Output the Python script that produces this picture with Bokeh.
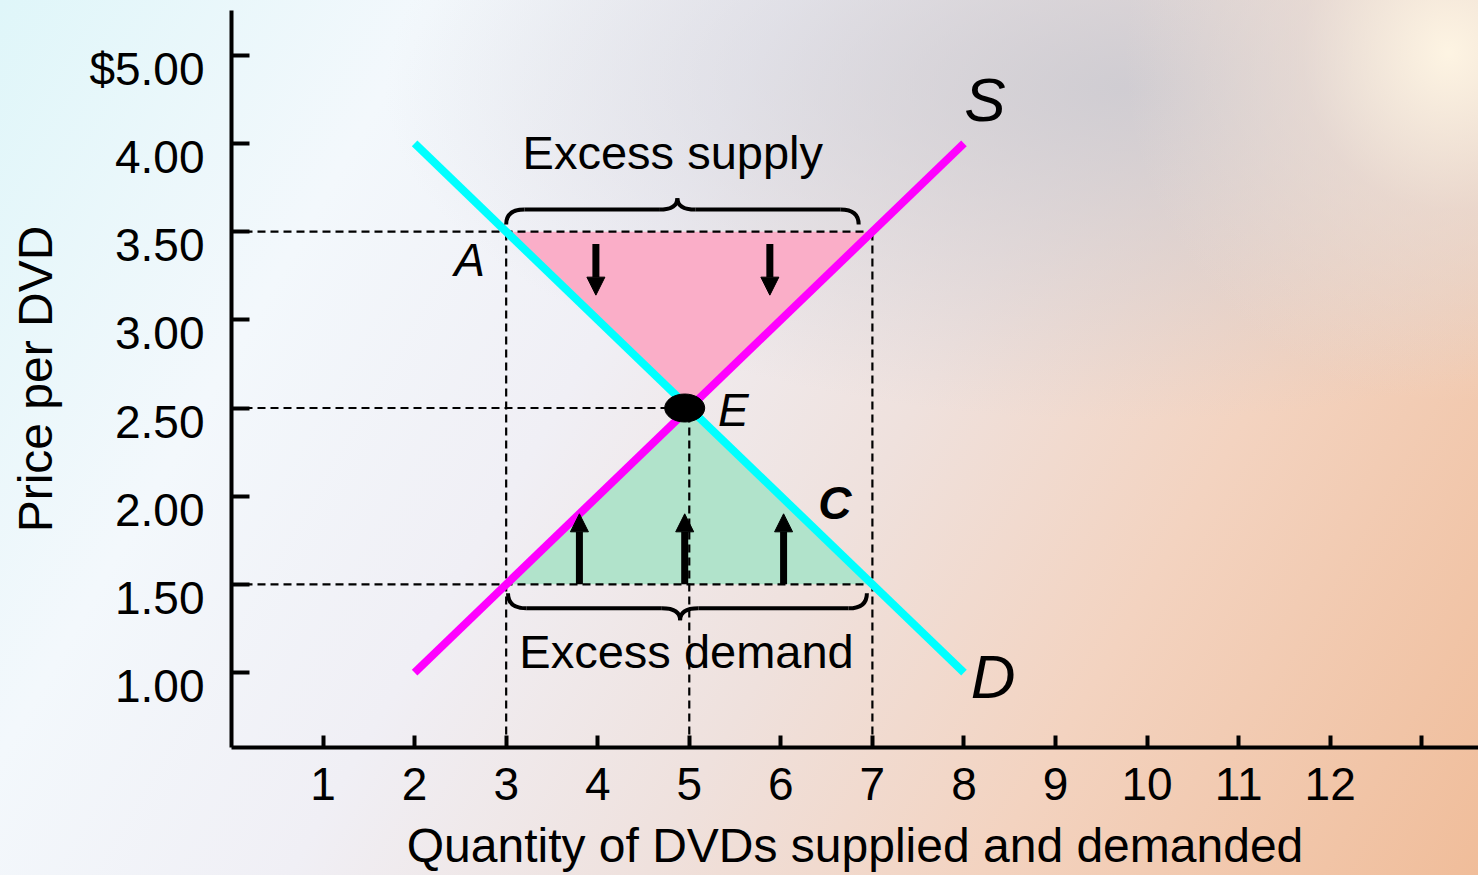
from bokeh.plotting import figure
from bokeh.models import (Range1d, FixedTicker, Arrow, NormalHead, ColumnDataSource,
                          GlobalInlineStyleSheet, LinearAxis, CustomLabelingPolicy)
from bokeh.core.properties import value
from bokeh.embed import file_html
from bokeh.resources import INLINE

# ---------------- data ----------------
supply_q = [2, 8]
supply_p = [1.0, 4.0]
demand_q = [2, 8]
demand_p = [4.0, 1.0]

eq_q = 5
eq_p = 2.5
high_p = 3.5          # price above equilibrium
qd_at_high = 3
qs_at_high = 7
low_p = 1.5           # price below equilibrium
qs_at_low = 3
qd_at_low = 7

y_ticks = [1.0, 1.5, 2.0, 2.5, 3.0, 3.5, 4.0, 4.5]
y_tick_labels = ["1.00", "1.50", "2.00", "2.50", "3.00", "3.50", "4.00", "$5.00"]
x_ticks = list(range(1, 14))
x_tick_labels = [str(i) for i in range(1, 13)] + [""]

down_arrow_q = [3.98, 5.88]
down_arrow_from = 3.43
down_arrow_to = 3.14
up_arrow_q = [3.8, 4.95, 6.03]
up_arrow_from = 1.5
up_arrow_to = 1.9

curve_labels = ["S", "D"]
curve_label_q = [8.23, 8.32]
curve_label_p = [4.25, 0.98]
point_labels = ["A", "E"]
point_label_q = [2.6, 5.48]
point_label_p = [3.34, 2.49]
c_label = "C"
c_label_q = 6.59
c_label_p = 1.96
region_labels = ["Excess supply", "Excess demand"]
region_label_q = [4.82, 4.97]
region_label_p = [3.95, 1.12]

FONT = "Liberation Sans"

# ---------------- figure ----------------
X0, X1 = 0.0, 13.62
Y0, Y1 = 0.575, 4.754
LABEL_DROP = 0.0766   # tick labels sit a little below their ticks in the original

p = figure(width=1478, height=875, output_backend="svg", toolbar_location=None,
           x_range=Range1d(X0, X1), y_range=Range1d(Y0, Y1),
           min_border_left=231, min_border_right=0, min_border_top=10, min_border_bottom=128,
           x_axis_label="Quantity of DVDs supplied and demanded")
p.extra_y_ranges = {"labels": Range1d(Y0 + LABEL_DROP, Y1 + LABEL_DROP)}

bg = ("radial-gradient(ellipse 22% 40% at 98% 6%, rgba(255,246,228,0.95) 0%, rgba(240,225,215,0.5) 45%, rgba(240,225,215,0) 100%),"
      "radial-gradient(ellipse 50% 38% at 76% 10%, rgba(200,200,208,0.8) 0%, rgba(205,205,212,0) 100%),"
      "linear-gradient(120deg, #dff6f9 0%, #f3f8fc 22%, #f0eff5 40%, #efe1dd 58%, #f3d3c0 75%, #f0bd9a 100%)")
p.stylesheets = [GlobalInlineStyleSheet(css="html { background: %s; background-attachment: fixed; min-height: 100%%; } body { background: transparent; }" % bg)]

p.background_fill_alpha = 0
p.border_fill_alpha = 0
p.outline_line_color = None
p.xgrid.visible = False
p.ygrid.visible = False

for ax in (p.xaxis[0], p.yaxis[0]):
    ax.axis_line_width = 4
    ax.axis_line_color = "black"
    ax.major_tick_line_width = 4
    ax.major_tick_line_color = "black"
    ax.minor_tick_line_color = None
    ax.major_tick_out = 0
    ax.major_label_text_font = FONT
    ax.major_label_text_font_size = "46px"
    ax.major_label_text_color = "black"
    ax.axis_label_text_font = FONT
    ax.axis_label_text_font_size = "48px"
    ax.axis_label_text_font_style = "normal"
    ax.axis_label_text_color = "black"

# main y axis: line and ticks only (labels hidden)
p.yaxis[0].ticker = FixedTicker(ticks=y_ticks)
p.yaxis[0].major_tick_in = 18
p.yaxis[0].major_label_standoff = 0
p.yaxis[0].major_label_text_font_size = "0px"
p.yaxis[0].major_label_policy = CustomLabelingPolicy(
    code="for (let i = 0; i < indices.size; i++) { indices.unset(i) } return indices")

# label y axis: tick labels + title
lab_axis = LinearAxis(y_range_name="labels", ticker=FixedTicker(ticks=y_ticks),
                      axis_label="Price per DVD")
lab_axis.major_label_overrides = dict(zip(y_ticks, y_tick_labels))
lab_axis.axis_line_color = None
lab_axis.major_tick_line_color = None
lab_axis.minor_tick_line_color = None
lab_axis.major_tick_out = 0
lab_axis.major_tick_in = 0
lab_axis.major_label_standoff = 27
lab_axis.major_label_text_font = FONT
lab_axis.major_label_text_font_size = "46px"
lab_axis.major_label_text_color = "black"
lab_axis.axis_label_text_font = FONT
lab_axis.axis_label_text_font_size = "48px"
lab_axis.axis_label_text_font_style = "normal"
lab_axis.axis_label_text_color = "black"
lab_axis.axis_label_standoff = 24
p.add_layout(lab_axis, "left")

p.xaxis[0].ticker = FixedTicker(ticks=x_ticks)
p.xaxis[0].major_label_overrides = dict(zip(x_ticks, x_tick_labels))
p.xaxis[0].major_label_policy = CustomLabelingPolicy(
    code="indices.unset(indices.size - 1); return indices")
p.xaxis[0].major_tick_in = 12
p.xaxis[0].major_label_standoff = 20
p.xaxis[0].axis_label_standoff = 16

# ---------------- shaded regions ----------------
p.patch([qd_at_high, qs_at_high, eq_q], [high_p, high_p, eq_p],
        fill_color="#FAAEC8", line_color=None)
p.patch([qs_at_low, qd_at_low, eq_q], [low_p, low_p, eq_p],
        fill_color="#B1E3CB", line_color=None)

# ---------------- dashed guides ----------------
dash = dict(line_color="black", line_width=2.2, line_dash="8 5")
h_levels = [high_p, eq_p, low_p]
h_ends = [qs_at_high, eq_q, qd_at_low]
p.segment(x0=[X0] * 3, y0=h_levels, x1=h_ends, y1=h_levels, **dash)
v_q = [qd_at_high, eq_q, qs_at_high]
v_top = [high_p, eq_p, high_p]
p.segment(x0=v_q, y0=[Y0] * 3, x1=v_q, y1=v_top, **dash)

# ---------------- supply & demand ----------------
p.line(demand_q, demand_p, line_color="#00FFFF", line_width=8)
p.line(supply_q, supply_p, line_color="#FF00FF", line_width=8)

p.ellipse(x=[eq_q - 0.05], y=[eq_p], width=40, height=28, width_units="screen",
          height_units="screen", fill_color="black", line_color="black")

# ---------------- arrows ----------------
down_src = ColumnDataSource(dict(x0=down_arrow_q, y0=[down_arrow_from] * len(down_arrow_q),
                                 x1=down_arrow_q, y1=[down_arrow_to] * len(down_arrow_q)))
up_src = ColumnDataSource(dict(x0=up_arrow_q, y0=[up_arrow_from] * len(up_arrow_q),
                               x1=up_arrow_q, y1=[up_arrow_to] * len(up_arrow_q)))
for src in (down_src, up_src):
    p.add_layout(Arrow(source=src, x_start="x0", y_start="y0", x_end="x1", y_end="y1",
                       line_width=7, line_color="black",
                       end=NormalHead(size=18, fill_color="black", line_color="black", line_width=1)))

# ---------------- braces ----------------
def brace(x0, x1, xm, ye, yh, yp, r):
    qx0 = [x0, xm - r, xm, x1 - r]
    qy0 = [ye, yh, yp, yh]
    qx1 = [x0 + r, xm, xm + r, x1]
    qy1 = [yh, yp, yh, ye]
    qcx = [x0, xm, xm, x1]
    qcy = [yh, yh, yh, yh]
    p.quadratic(x0=qx0, y0=qy0, x1=qx1, y1=qy1, cx=qcx, cy=qcy,
                line_color="black", line_width=4)
    p.segment(x0=[x0 + r, xm + r], y0=[yh, yh], x1=[xm - r, x1 - r], y1=[yh, yh],
              line_color="black", line_width=4)

brace(qd_at_high, qs_at_high - 0.15, 4.87, 3.54, 3.625, 3.69, 0.2)
brace(qs_at_low + 0.02, qd_at_low - 0.06, 4.9, 1.45, 1.364, 1.296, 0.2)

# ---------------- texts ----------------
p.text(x=curve_label_q, y=curve_label_p, text=curve_labels, text_font=value(FONT),
       text_font_size="62px", text_font_style="italic", text_align="center",
       text_baseline="middle", text_color="black")
p.text(x=point_label_q, y=point_label_p, text=point_labels, text_font=value(FONT),
       text_font_size="46px", text_font_style="italic", text_align="center",
       text_baseline="middle", text_color="black")
p.text(x=[c_label_q], y=[c_label_p], text=[c_label], text_font=value(FONT),
       text_font_size="46px", text_font_style="bold italic", text_align="center",
       text_baseline="middle", text_color="black")
p.text(x=region_label_q, y=region_label_p, text=region_labels, text_font=value(FONT),
       text_font_size="47px", text_align="center", text_baseline="middle",
       text_color="black")

open("out.html", "w").write(file_html(p, INLINE))
